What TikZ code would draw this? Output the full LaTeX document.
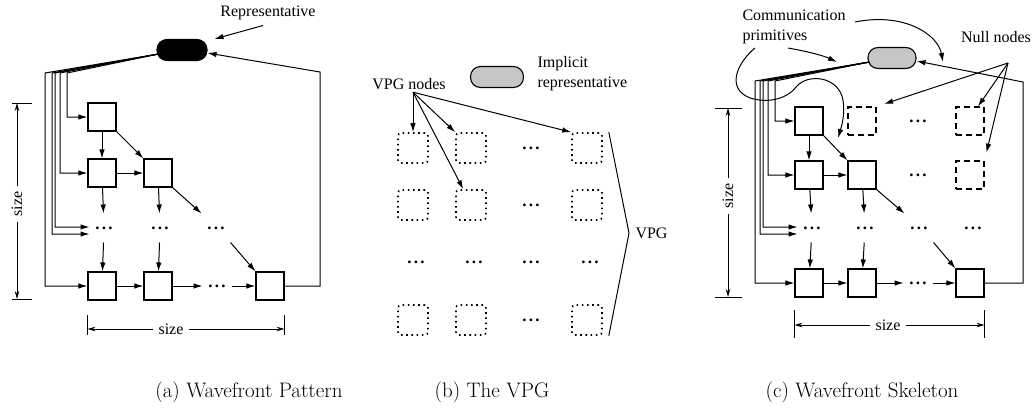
\documentclass[tikz,border=0pt]{standalone}
\usepackage{fontspec}
\newfontfamily\lblfont{Liberation Serif}
\usetikzlibrary{arrows.meta}
\tikzset{
  lbl/.style={font=\lblfont\fontsize{16}{20}\selectfont,inner sep=2pt},
  szlbl/.style={lbl,inner sep=5pt},
  caplbl/.style={font=\fontsize{21}{25}\selectfont,anchor=base},
  cell/.style={draw,line width=1.1pt,minimum size=28pt,inner sep=0pt},
  nullcell/.style={cell,dash pattern=on 6pt off 4pt},
  vpgcell/.style={draw,line width=1.6pt,dash pattern=on 1.6pt off 3.6pt,
    rounded corners=3pt,minimum size=30pt,inner sep=0pt},
  dotsn/.style={font=\lblfont\bfseries\fontsize{17}{20}\selectfont,
    minimum width=28pt,minimum height=28pt,inner sep=0pt},
  pill/.style={draw,line width=1.1pt,rounded corners=10pt,minimum height=21pt,inner sep=0pt},
  dim/.style={line width=0.8pt,-{Stealth[length=8pt,width=4.5pt]}},
}
\newcommand{\hdots}{.\hspace{2.2pt}.\hspace{2.2pt}.}
\begin{document}
\begin{tikzpicture}[x=1pt,y=-1pt,line width=1pt,>={Latex[length=9pt,width=5.5pt]}]
    \useasboundingbox (0,0) rectangle (1035,408);
    %% (a) Wavefront pattern
    \node[pill,fill=black,minimum width=50pt] (rep) at (182,50) {};
    \node[lbl] (repl) at (268,13) {Representative};
    \draw[->] ([xshift=-5pt,yshift=-3pt]repl.south) -- ([xshift=7pt]rep.north east);
    \node[cell] (a11) at (102,117) {};
    \node[cell] (a21) at (102,173) {};
    \node[cell] (a22) at (158,173) {};
    \node[dotsn] (a31) at (104,228) {\hdots};
    \node[dotsn] (a32) at (160,228) {\hdots};
    \node[dotsn] (a33) at (216,228) {\hdots};
    \node[cell] (a41) at (102,286) {};
    \node[cell] (a42) at (158,286) {};
    \node[dotsn] (a43) at (217,286) {\hdots};
    \node[cell] (a44) at (270,286) {};
    \draw[->] (a11) -- (a21);
    \draw[->] (a11.south east) -- (a22.north west);
    \draw[->] (a21) -- (a22);
    \draw[->] (a21) -- (a31);
    \draw[->] (a22) -- (a32);
    \draw[->] (a22.south east) -- (a33.north west);
    \draw[->] (a31) -- (a41);
    \draw[->] (a32) -- (a42);
    \draw[->] (a33.south east) -- (a44.north west);
    \draw[->] (a41) -- (a42);
    \draw[->] (a42) -- (a43);
    \draw[->] (a43) -- (a44);
    %% links from the representative
    \coordinate (afan) at ([xshift=2pt,yshift=-4pt]rep.west);
    \foreach \x/\t in {67/a11,60/a21,45/a41}
        \draw[->] (afan) -- (\x,73) |- (\t.west);
    \draw[->] (afan) -- (55,73) |- ([yshift=1pt]a31.west);
    \draw[->] (afan) -- (52,73) |- ([yshift=-6pt]a31.west);
    \coordinate (aret) at (320,72);
    \draw[->] (a44.east) -| (aret) -- ([yshift=-3pt]rep.east);
    %% size
    \node[szlbl,rotate=90] (asz) at (17,204) {size};
    \coordinate (aszt) at (17,103);
    \coordinate (aszb) at (17,299);
    \draw[dim] (asz) -- (aszt);
    \draw[dim] (asz) -- (aszb);
    \draw ([xshift=-5pt]aszt) -- ([xshift=15pt]aszt);
    \draw ([xshift=-5pt]aszb) -- ([xshift=15pt]aszb);
    \node[szlbl] (asw) at (171,329) {size};
    \coordinate (asl) at (a41.west |- asw);
    \coordinate (asr) at (a44.east |- asw);
    \draw[dim] (asw) -- (asl);
    \draw[dim] (asw) -- (asr);
    \draw ([yshift=14pt]asl) -- ([yshift=-6pt]asl);
    \draw ([yshift=14pt]asr) -- ([yshift=-6pt]asr);
    \node[caplbl] (capa) at (249,397) {(a) Wavefront Pattern};

    %% (b) The VPG
    \node[pill,fill=gray!45,minimum width=53pt] (irep) at (497,77) {};
    \node[lbl,align=left,anchor=west] (irepl) at (535,74) {Implicit\\representative};
    \node[lbl] (vpgl) at (409,84) {VPG nodes};
    \foreach \c/\x in {1/413,2/471,4/587}
        \foreach \r/\y in {1/148,2/205,4/320}
            \node[vpgcell] (b\r\c) at (\x,\y) {};
    \foreach \r/\y in {1/148,2/205,4/320}
        \node[dotsn] (b\r3) at (531,\y) {\hdots};
    \foreach \c/\x in {1/416,2/474,3/531,4/590}
        \node[dotsn] (b3\c) at (\x,262) {\hdots};
    \draw[->] ([xshift=4pt]vpgl.south) -- (b11.north);
    \draw[->] ([xshift=4pt]vpgl.south) -- (b12.north west);
    \draw[->] ([xshift=4pt]vpgl.south) -- (b14.north west);
    \draw[->] ([xshift=4pt]vpgl.south) -- ([xshift=8pt]b22.north west);
    \node[lbl,anchor=west,inner sep=6pt] (vpgt) at (629,233) {VPG};
    \draw ([xshift=6pt]b14.north east) -- (vpgt.west) -- ([xshift=6pt]b44.south east);
    \node[caplbl] (capb) at (492,397) {(b) The VPG};

    %% (c) Wavefront skeleton
    \node[pill,fill=gray!45,minimum width=48pt] (cpill) at (892,58) {};
    \node[lbl,align=left,anchor=west] (cpl) at (740,27) {Communication\\primitives};
    \node[lbl] (nnl) at (996,37) {Null nodes};
    \node[cell] (c11) at (809,121) {};
    \node[nullcell] (c12) at (862,121) {};
    \node[dotsn] (c13) at (918,121) {\hdots};
    \node[nullcell] (c14) at (970,121) {};
    \node[cell] (c21) at (809,175) {};
    \node[cell] (c22) at (862,175) {};
    \node[dotsn] (c23) at (918,175) {\hdots};
    \node[nullcell] (c24) at (970,175) {};
    \node[dotsn] (c31) at (812,228) {\hdots};
    \node[dotsn] (c32) at (865,228) {\hdots};
    \node[dotsn] (c33) at (919,228) {\hdots};
    \node[dotsn] (c34) at (973,228) {\hdots};
    \node[cell] (c41) at (809,283) {};
    \node[cell] (c42) at (862,283) {};
    \node[dotsn] (c43) at (918,283) {\hdots};
    \node[cell] (c44) at (970,283) {};
    \draw[->] (c11) -- (c21);
    \draw[->] (c11.south east) -- (c22.north west);
    \draw[->] (c21) -- (c22);
    \draw[->] (c21) -- (c31);
    \draw[->] (c22) -- (c32);
    \draw[->] (c22.south east) -- (c33.north west);
    \draw[->] (c31) -- (c41);
    \draw[->] (c32) -- (c42);
    \draw[->] (c33.south east) -- (c44.north west);
    \draw[->] (c41) -- (c42);
    \draw[->] (c42) -- (c43);
    \draw[->] (c43) -- (c44);
    %% links from the implicit representative
    \coordinate (cfan) at ([xshift=2pt,yshift=-4pt]cpill.west);
    \foreach \x/\t in {775/c11,768/c21,755/c41}
        \draw[->] (cfan) -- (\x,81) |- (\t.west);
    \draw[->] (cfan) -- (763,81) |- ([yshift=1pt]c31.west);
    \draw[->] (cfan) -- (760,81) |- ([yshift=-6pt]c31.west);
    \coordinate (cret) at (1023,82);
    \draw[->] (c44.east) -| (cret) -- ([yshift=-3pt]cpill.east);
    %% null nodes
    \coordinate (nnsrc) at (1008,63);
    \draw[->,shorten >=8pt] (nnsrc) -- (c12.north east);
    \draw[->] (nnsrc) -- ([xshift=8pt]c14.north);
    \draw[->,shorten >=8pt] (nnsrc) -- (c24.north east);
    %% communication primitives
    \coordinate (cp1) at (788,48);
    \coordinate (cp2) at (837,62);
    \draw[->] (cp1) .. controls (805,51) and (822,55) .. (cp2);
    \coordinate (cp3) at (855,22);
    \coordinate (cp4) at (943,62);
    \draw[->] (cp3) .. controls (905,12) and (938,35) .. (cp4);
    \coordinate (cp5) at (755,48);
    \coordinate (cp6) at (838,138);
    \draw[->] (cp5) .. controls (738,62) and (725,88) .. (750,98)
        .. controls (770,104) and (788,98) .. (797,86)
        .. controls (808,74) and (835,76) .. (842,96)
        .. controls (846,110) and (842,125) .. (cp6);
    %% size
    \node[szlbl,rotate=90] (csz) at (728,196) {size};
    \coordinate (cszt) at (728,108);
    \coordinate (cszb) at (728,297);
    \draw[dim] (csz) -- (cszt);
    \draw[dim] (csz) -- (cszb);
    \draw ([xshift=-13pt]cszt) -- ([xshift=14pt]cszt);
    \draw ([xshift=-13pt]cszb) -- ([xshift=14pt]cszb);
    \node[szlbl] (csw) at (888,325) {size};
    \coordinate (csl) at (c41.west |- csw);
    \coordinate (csr) at (c44.east |- csw);
    \draw[dim] (csw) -- (csl);
    \draw[dim] (csw) -- (csr);
    \draw ([yshift=15pt]csl) -- ([yshift=-13pt]csl);
    \draw ([yshift=15pt]csr) -- ([yshift=-13pt]csr);
    \node[caplbl] (capc) at (862,397) {(c) Wavefront Skeleton};
\end{tikzpicture}
\end{document}
